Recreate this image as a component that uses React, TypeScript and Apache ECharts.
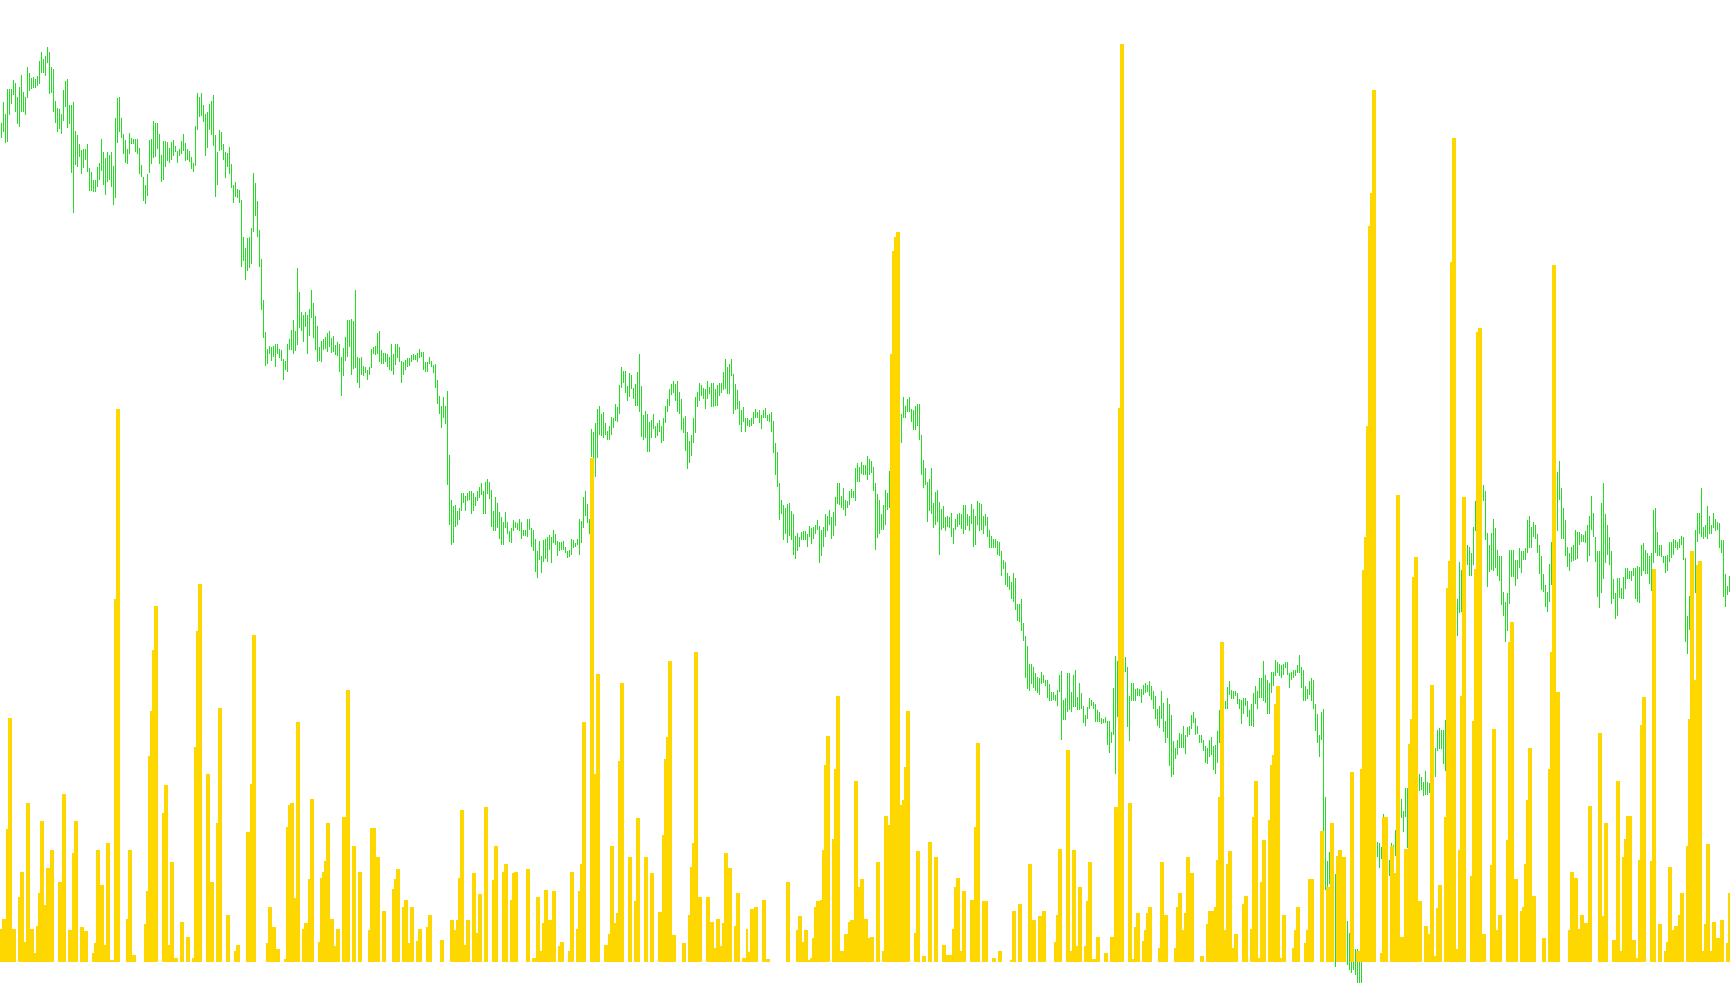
import React, { useEffect, useRef } from "react";
import * as echarts from "echarts";

// Daily high / low of the price bars (index units) and traded volume, one entry per session.
const priceHigh: number[] = [
  // 0-123
  1418,1452,1432,1473,1473,1473,1487,1483,1460,1476,
  1496,1467,1460,1508,1498,1490,1492,1489,1493,1518,
  1533,1521,1526,1541,1532,1508,1505,1453,1442,1440,
  1432,1471,1486,1488,1447,1447,1452,1405,1398,1384,
  1374,1376,1375,1384,1345,1338,1326,1326,1347,1353,
  1391,1371,1361,1370,1366,1370,1348,1425,1458,1460,
  1426,1400,1390,1376,1402,1393,1392,1392,1392,1378,
  1350,1331,1317,1336,1390,1392,1421,1418,1418,1400,
  1366,1388,1388,1387,1377,1387,1390,1381,1373,1375,
  1388,1400,1385,1376,1372,1363,1353,1413,1466,1460,
  1466,1447,1433,1436,1448,1453,1463,1398,1371,1407,
  1403,1383,1370,1369,1379,1352,1317,1323,1311,1309,
  1293,1233,1215,1232,
  // 124-246
  1233,1248,1337,1321,1292,1245,1198,1131,1080,1052,
  1057,1056,1057,1060,1060,1052,1050,1036,1033,1060,
  1068,1083,1099,1081,1183,1145,1112,1108,1112,1108,
  1117,1147,1127,1105,1089,1055,1065,1068,1071,1078,
  1081,1070,1073,1059,1063,1061,1039,1054,1071,1100,
  1100,1101,1098,1147,1040,1038,1039,1025,1023,1018,
  1023,1052,1055,1057,1078,1081,1050,1046,1046,1044,
  1040,1061,1045,1060,1060,1056,1033,1031,1035,1038,
  1038,1043,1045,1043,1046,1053,1048,1048,1031,1031,
  1040,1033,1027,1028,1002,976,960,975,960,985,
  881,808,798,800,790,795,819,819,815,820,
  822,823,819,813,823,830,836,823,837,842,
  837,825,790,
  // 247-370
  813,803,789,781,773,789,773,758,763,776,
  773,771,778,773,760,760,778,778,763,760,
  746,726,742,718,744,746,748,752,748,760,
  753,742,740,740,742,732,725,728,746,743,
  738,746,778,774,813,823,802,778,923,918,
  933,955,961,948,951,933,920,928,943,941,
  963,959,994,1023,1017,1017,993,1013,1011,990,
  996,1015,1044,993,946,952,948,934,938,947,
  928,932,938,928,941,960,971,988,996,1000,
  996,1001,983,971,941,944,918,903,913,940,
  974,983,998,994,989,988,1001,991,998,998,
  988,994,998,997,1015,1036,1023,1028,1036,1012,
  996,986,968,953,
  // 371-493
  958,941,941,938,940,950,955,950,954,946,
  953,957,946,948,950,936,901,886,836,808,
  800,795,802,803,790,786,750,755,748,756,
  758,758,753,766,763,765,768,776,766,760,
  765,786,783,792,780,789,813,836,836,815,
  828,808,806,822,826,822,860,868,862,869,
  865,865,879,875,871,862,836,818,808,785,
  800,825,819,855,868,888,908,928,938,948,
  975,960,972,975,956,953,961,963,963,913,
  873,860,838,843,860,803,821,825,805,793,
  798,781,782,781,787,763,778,786,788,786,
  800,800,786,783,802,793,782,806,803,802,
  782,786,780,
  // 494-617
  760,750,745,745,742,740,725,712,708,690,
  685,675,690,682,640,640,648,610,588,573,
  543,543,538,528,522,520,531,525,518,518,
  511,498,498,493,501,525,532,485,488,528,
  528,498,525,533,490,512,496,475,460,473,
  488,485,481,478,468,465,456,455,458,451,
  451,433,505,556,548,558,568,558,555,538,
  491,512,512,502,505,503,502,510,512,510,
  515,508,500,491,470,475,500,480,451,488,
  478,460,418,408,420,431,430,443,428,441,
  443,461,466,456,443,428,428,420,410,408,
  420,425,410,412,435,468,488,493,483,506,
  515,501,500,500,
  // 618-740
  496,486,485,488,488,483,468,478,496,508,
  500,521,521,548,526,518,513,530,531,550,
  546,543,541,543,546,546,528,530,533,533,
  541,558,538,533,508,503,515,521,518,478,
  463,428,466,470,328,225,240,248,228,203,
  188,168,158,148,138,128,108,98,93,83,
  83,78,83,108,128,148,168,188,208,238,
  256,253,248,301,283,268,226,253,250,275,
  298,308,325,306,342,342,348,353,358,363,
  368,365,360,353,370,353,351,368,388,408,
  436,440,436,436,453,488,518,548,578,608,
  648,708,695,718,728,735,732,723,765,806,
  818,828,833,
  // 741-864
  832,822,755,736,755,778,763,727,718,718,
  660,643,658,728,727,727,711,711,731,726,
  726,730,776,783,765,773,768,753,736,718,
  688,671,660,705,740,768,808,853,871,828,
  795,776,733,723,733,735,760,756,756,753,
  751,758,768,783,815,788,748,725,725,803,
  836,786,768,748,726,681,658,682,682,666,
  683,698,698,693,693,698,698,701,700,735,
  738,728,723,718,723,792,796,756,736,736,
  718,718,720,740,740,746,743,740,745,750,
  748,715,620,653,688,718,760,788,788,828,
  765,768,798,783,768,788,778,772,771,743,
  743,688,670,686,
];

const priceLow: number[] = [
  // 0-123
  1393,1403,1385,1387,1430,1448,1463,1435,1416,1411,
  1435,1436,1431,1458,1470,1473,1475,1475,1478,1480,
  1498,1498,1494,1515,1464,1466,1435,1418,1403,1408,
  1400,1421,1444,1409,1416,1337,1272,1350,1347,1362,
  1336,1345,1358,1338,1308,1308,1306,1306,1315,1325,
  1340,1318,1302,1323,1325,1315,1285,1296,1385,1403,
  1393,1368,1353,1351,1368,1383,1383,1371,1368,1335,
  1330,1292,1287,1300,1337,1351,1361,1362,1375,1351,
  1322,1325,1346,1356,1353,1358,1365,1370,1353,1364,
  1368,1373,1356,1358,1354,1344,1338,1348,1406,1428,
  1429,1419,1364,1378,1406,1398,1380,1298,1317,1373,
  1374,1358,1328,1346,1336,1313,1289,1298,1296,1288,
  1185,1195,1164,1178,
  // 124-246
  1183,1190,1241,1268,1233,1185,1115,1070,1025,1028,
  1045,1033,1040,1023,1045,1038,1033,1003,1018,1015,
  1050,1050,1045,1049,1058,1086,1081,1063,1088,1045,
  1074,1102,1070,1051,1031,1033,1031,1050,1053,1048,
  1055,1046,1048,1043,1041,1015,976,1008,1033,1039,
  1056,1011,1020,1021,997,989,1010,1009,1013,1003,
  1011,1021,1045,1042,1045,1031,1028,1028,1031,1023,
  1018,1017,1011,1026,1038,1031,997,1011,1018,1023,
  1025,1031,1035,1035,1031,1038,1040,1018,1015,1015,
  1028,1023,1013,990,963,947,925,940,931,833,
  768,735,738,765,768,776,790,803,790,806,
  808,785,790,798,806,812,816,785,785,818,
  810,765,758,
  // 247-370
  758,763,745,736,735,763,753,740,738,758,
  763,760,758,746,750,750,748,760,732,725,
  692,682,711,690,708,713,708,728,706,738,
  736,718,725,728,728,723,715,716,720,730,
  732,735,720,738,763,782,771,753,878,868,
  846,876,913,911,908,913,905,905,913,925,
  936,935,948,990,998,981,968,975,988,971,
  960,960,951,910,906,908,886,886,908,923,
  908,912,918,900,903,933,951,960,978,981,
  968,950,948,921,916,888,858,868,880,900,
  916,958,968,976,972,955,972,980,959,959,
  960,960,976,981,986,988,980,980,1008,948,
  953,955,930,918,
  // 371-493
  935,918,928,926,928,931,940,940,933,923,
  940,941,936,935,918,885,848,830,776,785,
  743,753,738,750,743,720,713,725,732,743,
  743,743,732,748,737,745,753,760,706,717,
  732,748,758,768,746,750,766,801,800,795,
  792,782,795,800,811,811,807,838,838,851,
  848,848,840,848,852,822,727,747,753,760,
  760,768,792,796,808,828,848,868,878,900,
  940,940,950,951,935,921,921,928,906,848,
  828,833,773,790,786,763,768,773,719,760,
  763,758,765,763,748,737,760,765,768,762,
  753,760,766,758,770,733,735,768,758,760,
  753,766,748,
  // 494-617
  731,731,731,731,720,718,685,696,671,668,
  663,648,643,631,613,611,596,580,520,503,
  500,511,505,500,496,493,511,513,508,488,
  483,483,485,483,475,498,420,453,453,465,
  468,466,473,473,468,468,471,448,443,455,
  471,475,471,450,450,450,446,448,448,413,
  400,416,428,365,458,508,518,518,530,441,
  418,483,483,483,491,491,480,493,496,498,
  491,485,471,455,443,440,455,433,415,423,
  378,361,363,390,396,408,408,408,398,425,
  428,438,448,428,430,415,415,403,383,381,
  393,396,371,366,383,416,438,458,470,470,
  493,486,486,491,
  // 618-740
  478,471,446,463,475,458,443,443,441,478,
  470,488,488,483,480,463,463,496,508,523,
  528,523,521,526,536,525,505,518,520,523,
  528,528,505,483,483,486,493,483,470,435,
  415,393,420,268,178,183,188,168,148,53,
  98,88,78,68,68,56,48,43,48,41,
  28,28,28,68,73,88,108,128,148,178,
  231,213,228,268,248,218,200,228,223,233,
  248,268,295,271,296,245,288,308,318,323,
  328,338,340,330,331,331,335,338,353,361,
  403,406,406,381,370,428,458,488,518,548,
  588,625,628,658,678,703,685,685,703,758,
  768,778,788,
  // 741-864
  806,743,668,692,695,693,698,685,678,638,
  620,578,596,640,683,683,670,680,698,691,
  711,711,723,730,730,748,746,723,688,663,
  660,635,628,643,671,688,728,758,808,746,
  746,718,700,693,708,710,711,713,736,740,
  740,738,708,718,760,748,708,651,633,658,
  680,706,720,703,640,648,616,621,650,648,
  648,665,680,680,678,685,648,643,641,685,
  693,688,688,673,661,706,723,718,718,716,
  706,691,693,708,715,720,730,728,730,736,
  711,578,560,598,608,638,658,740,753,748,
  745,748,746,753,753,763,758,760,731,723,
  652,636,655,660,
];

const volume: number[] = [
  // 0-123
  54,70,70,215,395,395,54,54,0,105,
  146,146,32,257,257,53,53,15,58,112,
  228,228,92,152,152,181,181,0,0,129,
  129,272,272,0,52,52,176,228,228,0,
  57,57,50,50,0,0,15,30,181,181,
  124,124,28,192,192,3,3,587,894,894,
  0,0,0,70,181,181,12,12,0,0,
  0,0,61,115,333,406,505,576,576,0,
  0,241,287,287,27,162,162,7,7,0,
  65,65,0,40,40,0,7,348,535,611,
  611,0,0,304,304,129,129,0,225,411,
  411,0,0,76,76,0,0,18,27,27,
  0,0,0,210,
  // 124-246
  211,288,529,529,0,0,0,0,0,30,
  89,89,57,57,21,21,0,0,5,219,
  254,257,257,104,388,388,0,54,63,63,
  135,264,264,0,0,33,136,146,164,224,
  224,70,70,26,54,54,0,235,235,440,
  440,0,188,188,0,146,146,0,0,0,
  51,217,217,217,170,170,0,83,83,0,
  0,0,118,135,151,151,0,89,101,101,
  30,89,89,0,34,54,54,0,0,57,
  76,76,0,0,0,0,36,36,0,0,
  0,68,68,51,68,136,246,246,28,68,
  68,0,144,144,47,110,110,0,251,251,
  0,0,133,
  // 247-370
  188,188,0,0,146,159,159,0,101,144,
  146,146,0,0,0,0,151,151,0,7,
  7,105,105,18,63,117,117,68,68,115,
  115,0,26,33,33,0,0,18,146,146,
  0,54,115,159,388,388,0,0,815,815,
  304,466,466,0,0,28,28,46,188,188,
  63,80,325,451,451,0,0,169,169,0,
  99,233,233,0,0,169,169,0,144,144,
  0,0,81,81,206,329,364,487,487,44,
  44,0,0,0,30,30,0,76,154,193,
  502,502,105,105,0,0,105,105,65,65,
  23,70,70,26,63,177,177,152,152,0,
  59,112,112,0,
  // 371-493
  7,7,54,16,86,86,89,89,0,0,
  101,101,5,5,0,0,0,0,0,0,
  0,0,130,130,0,0,0,52,75,75,
  33,52,52,4,7,39,89,99,99,101,
  181,319,366,366,0,199,312,430,430,18,
  18,46,46,65,68,68,293,293,122,135,
  135,70,70,39,41,41,0,162,162,0,
  18,236,236,222,983,1150,1172,1180,1180,254,
  262,316,406,406,0,0,47,180,180,0,
  10,10,0,194,194,0,169,169,0,0,
  28,28,12,12,12,54,122,136,136,17,
  115,115,0,0,101,101,219,354,354,0,
  99,99,99,
  // 494-617
  0,0,7,7,0,17,17,0,0,0,
  0,4,83,83,0,93,93,0,0,0,
  159,159,68,68,0,75,75,83,83,0,
  0,0,0,33,76,183,183,0,0,342,
  342,17,181,181,26,122,122,0,26,99,
  162,162,5,5,41,41,0,0,15,15,
  0,41,41,251,251,895,1485,1485,0,0,
  257,257,5,57,80,80,0,34,52,80,
  89,89,0,0,0,23,162,162,76,76,
  0,0,0,23,89,112,112,52,80,170,
  170,144,144,0,0,0,10,10,0,62,
  83,83,83,89,165,266,517,517,52,159,
  180,180,22,46,
  // 618-740
  46,0,0,94,107,107,0,54,235,293,
  293,7,130,198,198,0,230,319,335,417,
  447,447,7,76,76,0,0,0,23,52,
  89,89,0,0,30,52,135,135,135,0,
  0,0,212,212,0,122,122,224,224,0,
  172,181,181,169,169,0,0,308,308,0,
  17,17,312,634,687,867,1190,1244,1410,1410,
  0,0,15,235,235,235,0,187,187,144,
  755,755,41,41,183,183,353,393,623,655,
  655,99,99,0,59,59,46,448,448,10,
  88,125,125,0,235,605,649,1132,1332,1332,
  21,181,430,752,752,0,0,139,390,636,
  1019,1025,1025,
  // 741-864
  46,46,0,0,157,377,377,52,76,76,
  0,0,198,517,549,549,135,135,0,83,
  89,159,262,346,346,107,107,0,0,0,
  39,39,0,312,502,1127,1127,437,437,0,
  0,0,0,52,146,146,136,136,54,76,
  76,63,63,253,253,0,0,0,371,371,
  75,225,225,0,0,36,36,293,293,17,
  170,199,236,236,236,36,36,7,165,384,
  429,429,0,0,164,636,636,0,62,62,
  0,17,33,154,154,52,59,59,76,112,
  112,0,188,393,665,665,456,642,649,649,
  17,62,190,190,17,65,65,39,39,68,
  68,0,30,112,
];

const categories: string[] = priceHigh.map((_, i) => `S${i + 1}`);

const PRICE_MAX = 1568;
const VOLUME_MAX = 1507;

export default function App() {
  const ref = useRef<HTMLDivElement>(null);

  useEffect(() => {
    if (!ref.current) return;
    const chart = echarts.init(ref.current, null, { renderer: "svg" });
    const rangeData = priceHigh.map((h, i) => [i, priceLow[i], h]);
    chart.setOption({
      animation: false,
      backgroundColor: "#ffffff",
      grid: [
        { left: 0, right: 0, top: 30, height: 970 },
        { left: 0, right: 0, top: 30, height: 932 },
      ],
      xAxis: [
        { type: "category", data: categories, gridIndex: 0, show: false, boundaryGap: true },
        { type: "category", data: categories, gridIndex: 1, show: false, boundaryGap: true },
      ],
      yAxis: [
        { type: "value", gridIndex: 0, min: 0, max: PRICE_MAX, show: false },
        { type: "value", gridIndex: 1, min: 0, max: VOLUME_MAX, show: false },
      ],
      series: [
        {
          name: "Price",
          type: "custom",
          xAxisIndex: 0,
          yAxisIndex: 0,
          data: rangeData,
          encode: { x: 0, y: [1, 2] },
          renderItem: (params: any, api: any) => {
            const idx = api.value(0);
            const lo = api.coord([idx, api.value(1)]);
            const hi = api.coord([idx, api.value(2)]);
            const top = Math.round(hi[1]);
            const bottom = Math.round(lo[1]);
            return {
              type: "rect",
              shape: {
                x: Math.round(lo[0]),
                y: top,
                width: 1,
                height: Math.max(1, bottom - top),
              },
              style: { fill: "#22dd22" },
            };
          },
        },
        {
          name: "Volume",
          type: "bar",
          xAxisIndex: 1,
          yAxisIndex: 1,
          data: volume,
          barWidth: "100%",
          itemStyle: { color: "#ffd700" },
        },
      ],
    });
    const svg = ref.current.querySelector("svg");
    if (svg) svg.setAttribute("shape-rendering", "crispEdges");
    return () => chart.dispose();
  }, []);

  return (
    <div
      ref={ref}
      style={{ position: "fixed", left: 0, top: 0, width: 1730, height: 1005, background: "#ffffff" }}
    />
  );
}
